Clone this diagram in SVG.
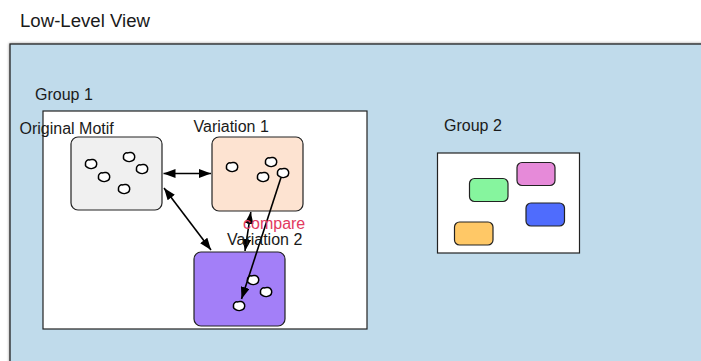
<svg xmlns="http://www.w3.org/2000/svg" xmlns:xlink="http://www.w3.org/1999/xlink" width="701" height="361" viewBox="0 0 701 361">
  <style>
    text { font-family: "Liberation Sans", Arial, sans-serif; font-size: 16px; fill: #1a1a1a; }
    .box { stroke: #222; stroke-width: 1.2; }
    .frame { fill: #fff; stroke: #222; stroke-width: 1.2; }
    .conn { stroke: #000; stroke-width: 1.6; fill: none; }
    .blob { fill: #fff; stroke: #000; stroke-width: 1.5; }
    .red { fill: #e23a60; }
  </style>
  <defs>
    <filter id="shadow" x="-5%" y="-5%" width="110%" height="110%">
      <feGaussianBlur in="SourceAlpha" stdDeviation="1.6"/>
      <feComponentTransfer><feFuncA type="linear" slope="0.45"/></feComponentTransfer>
      <feMerge><feMergeNode/><feMergeNode in="SourceGraphic"/></feMerge>
    </filter>
    <marker id="head" viewBox="0 0 12 9" refX="12" refY="4.5" markerWidth="12" markerHeight="9" markerUnits="userSpaceOnUse" orient="auto-start-reverse">
      <path d="M0,0 L12,4.5 L0,9 Z" fill="#000"/>
    </marker>
    <path id="blob" class="blob" d="M-5.5,0 C-6,-2.8 -3.4,-4.6 -1.2,-4.1 C0.6,-5 3.9,-4.5 4.9,-2.7 C6.2,-1.1 6,2 4,3.4 C2.2,4.7 -1.1,4.8 -2.9,3.8 C-5.1,2.9 -5.9,1.6 -5.5,0 Z"/>
  </defs>

  <text x="20" y="27" style="font-size:17.5px" textLength="130" lengthAdjust="spacingAndGlyphs">Low-Level View</text>

  <!-- outer panel -->
  <g id="panel">
    <rect x="10" y="44" width="700" height="330" fill="#c0dbeb" stroke="#222" stroke-width="1.3" filter="url(#shadow)"/>
  </g>

  <!-- group 1 -->
  <g id="group1">
    <text x="35" y="100">Group 1</text>
    <rect class="frame" x="43" y="111" width="324" height="218"/>
    <text x="19.5" y="134">Original Motif</text>
  </g>

  <g id="original-motif">
    <rect class="box" x="71" y="137" width="91" height="73" rx="7" fill="#f0f0f0"/>
    <use xlink:href="#blob" x="91" y="164"/>
    <use xlink:href="#blob" x="129" y="157"/>
    <use xlink:href="#blob" x="142" y="169"/>
    <use xlink:href="#blob" x="104" y="177"/>
    <use xlink:href="#blob" x="124" y="189"/>
  </g>

  <g id="variation-1">
    <text x="193.5" y="131.5">Variation 1</text>
    <rect class="box" x="212" y="137" width="91" height="74" rx="7" fill="#fde3d1"/>
    <use xlink:href="#blob" x="232" y="167"/>
    <use xlink:href="#blob" x="271" y="162"/>
    <use xlink:href="#blob" x="263" y="177"/>
    <use xlink:href="#blob" x="283" y="173"/>
  </g>

  <g id="variation-2">
    <rect class="box" x="194" y="252" width="91" height="74" rx="7" fill="#a37ff8"/>
    <use xlink:href="#blob" x="253" y="280"/>
    <use xlink:href="#blob" x="266" y="292"/>
    <use xlink:href="#blob" x="239" y="306"/>
  </g>

  <!-- connectors -->
  <g id="connectors">
    <line class="conn" x1="163.5" y1="173.5" x2="211" y2="173.5" marker-start="url(#head)" marker-end="url(#head)"/>
    <line class="conn" x1="164" y1="188" x2="211" y2="250" marker-start="url(#head)" marker-end="url(#head)"/>
    <line class="conn" x1="250.8" y1="212" x2="245" y2="251" marker-start="url(#head)" marker-end="url(#head)"/>
    <line class="conn" x1="281" y1="177.5" x2="241.5" y2="299" stroke-width="1.3" marker-end="url(#head)"/>
  </g>

  <text class="red" x="243" y="228.5">compare</text>
  <text x="227" y="245">Variation 2</text>

  <!-- group 2 -->
  <g id="group2">
    <text x="444" y="131">Group 2</text>
    <rect class="frame" x="437.5" y="153" width="142" height="100"/>
  </g>
  <g id="pink"><rect class="box" x="517" y="162.5" width="38" height="23" rx="5" fill="#e68ad9"/></g>
  <g id="green"><rect class="box" x="469.5" y="178.5" width="38.5" height="23" rx="5" fill="#86f59e"/></g>
  <g id="blue"><rect class="box" x="526" y="203" width="38.5" height="23" rx="5" fill="#4f6cfd"/></g>
  <g id="orange"><rect class="box" x="454.5" y="222" width="38.5" height="23" rx="5" fill="#ffc866"/></g>
</svg>
